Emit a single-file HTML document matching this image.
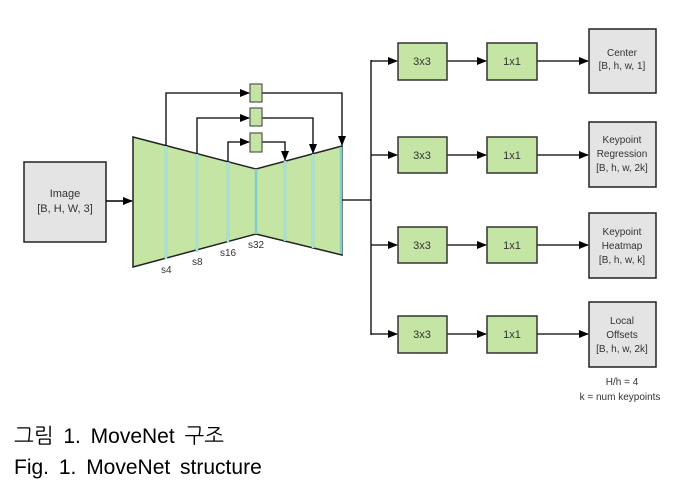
<!DOCTYPE html>
<html><head><meta charset="utf-8"><style>
body{margin:0;background:#fff;width:685px;height:490px;overflow:hidden}
svg text{font-family:"Liberation Sans",Arial,sans-serif;fill:#333}
</style></head><body>
<svg width="685" height="490" xmlns="http://www.w3.org/2000/svg">
<defs><marker id="a" markerWidth="10" markerHeight="8" refX="9" refY="4" orient="auto" markerUnits="userSpaceOnUse"><path d="M0,0 L10,4 L0,8 z" fill="#000"/></marker></defs>
<g stroke="#222" stroke-width="1.5">
<rect x="24" y="162" width="82" height="80" fill="#e4e4e4"/>
</g>
<text x="65" y="197" font-size="11" text-anchor="middle">Image</text>
<text x="65" y="212" font-size="11" text-anchor="middle">[B, H, W, 3]</text>
<line x1="106" y1="201" x2="132" y2="201" stroke="#000" stroke-width="1.5" marker-end="url(#a)"/>
<polygon points="133,137 256,169 342,146 342,255 256,234 133,267" fill="#c5e5a5" stroke="#222" stroke-width="1.5"/>
<g stroke="#7fd0c8" stroke-width="2.5">
<line x1="166" y1="146" x2="166" y2="259"/><line x1="197" y1="154" x2="197" y2="252"/><line x1="228" y1="162" x2="228" y2="243"/><line x1="256" y1="169" x2="256" y2="234"/><line x1="285" y1="161" x2="285" y2="241"/><line x1="313" y1="154" x2="313" y2="248"/><line x1="341" y1="147" x2="341" y2="254"/>
</g>
<g stroke="#e8f8f0" stroke-width="0.8">
<line x1="166" y1="146" x2="166" y2="259"/><line x1="197" y1="154" x2="197" y2="252"/><line x1="228" y1="162" x2="228" y2="243"/><line x1="285" y1="161" x2="285" y2="241"/><line x1="313" y1="154" x2="313" y2="248"/>
</g>
<g font-size="10"><text x="161" y="273">s4</text><text x="192" y="265">s8</text><text x="220" y="256">s16</text><text x="248" y="248">s32</text></g>
<g fill="none" stroke="#000" stroke-width="1.3">
<polyline points="166,146 166,93 249,93" marker-end="url(#a)"/>
<polyline points="197,154 197,118 249,118" marker-end="url(#a)"/>
<polyline points="228,162 228,142 249,142" marker-end="url(#a)"/>
<polyline points="262,93 342,93 342,145" marker-end="url(#a)"/>
<polyline points="262,118 313,118 313,153" marker-end="url(#a)"/>
<polyline points="262,142 285,142 285,160" marker-end="url(#a)"/>
<polyline points="342,200 371,200"/>
<line x1="371" y1="60" x2="371" y2="335"/>
</g>
<g fill="#c5e5a5" stroke="#555" stroke-width="1.2">
<rect x="250" y="84" width="12" height="18"/><rect x="250" y="108" width="12" height="18"/><rect x="250" y="133" width="12" height="19"/>
</g>
<g stroke="#000" stroke-width="1.3" fill="none">
<line x1="371" y1="61" x2="397" y2="61" marker-end="url(#a)"/><line x1="447" y1="61" x2="486" y2="61" marker-end="url(#a)"/><line x1="537" y1="61" x2="588" y2="61" marker-end="url(#a)"/>
<line x1="371" y1="155" x2="397" y2="155" marker-end="url(#a)"/><line x1="447" y1="155" x2="486" y2="155" marker-end="url(#a)"/><line x1="537" y1="155" x2="588" y2="155" marker-end="url(#a)"/>
<line x1="371" y1="245" x2="397" y2="245" marker-end="url(#a)"/><line x1="447" y1="245" x2="486" y2="245" marker-end="url(#a)"/><line x1="537" y1="245" x2="588" y2="245" marker-end="url(#a)"/>
<line x1="371" y1="334" x2="397" y2="334" marker-end="url(#a)"/><line x1="447" y1="334" x2="486" y2="334" marker-end="url(#a)"/><line x1="537" y1="334" x2="588" y2="334" marker-end="url(#a)"/>
</g>
<g fill="#c5e5a5" stroke="#333" stroke-width="1.5">
<rect x="398" y="43" width="49" height="37"/><rect x="487" y="43" width="50" height="37"/>
<rect x="398" y="137" width="49" height="36"/><rect x="487" y="137" width="50" height="36"/>
<rect x="398" y="227" width="49" height="36"/><rect x="487" y="227" width="50" height="36"/>
<rect x="398" y="316" width="49" height="37"/><rect x="487" y="316" width="50" height="37"/>
</g>
<g font-size="11" text-anchor="middle">
<text x="422" y="65">3x3</text><text x="512" y="65">1x1</text>
<text x="422" y="159">3x3</text><text x="512" y="159">1x1</text>
<text x="422" y="249">3x3</text><text x="512" y="249">1x1</text>
<text x="422" y="338">3x3</text><text x="512" y="338">1x1</text>
</g>
<g fill="#e4e4e4" stroke="#222" stroke-width="1.5">
<rect x="589" y="29" width="67" height="64"/><rect x="589" y="122" width="67" height="65"/><rect x="589" y="213" width="67" height="65"/><rect x="589" y="302" width="67" height="65"/>
</g>
<g font-size="10" text-anchor="middle">
<text x="622" y="56">Center</text><text x="622" y="69">[B, h, w, 1]</text>
<text x="622" y="143">Keypoint</text><text x="622" y="157">Regression</text><text x="622" y="171">[B, h, w, 2k]</text>
<text x="622" y="235">Keypoint</text><text x="622" y="249">Heatmap</text><text x="622" y="263">[B, h, w, k]</text>
<text x="622" y="324">Local</text><text x="622" y="338">Offsets</text><text x="622" y="352">[B, h, w, 2k]</text>
<text x="622" y="385">H/h = 4</text><text x="620" y="400">k = num keypoints</text>
</g>
<g font-size="21" style="fill:#000;word-spacing:4px">
<text x="14" y="443" style="font-family:'Liberation Sans','NanumGothic',sans-serif;fill:#000">그림 1. MoveNet 구조</text>
<text x="14" y="474" style="fill:#000">Fig. 1. MoveNet structure</text>
</g>
</svg>
</body></html>
